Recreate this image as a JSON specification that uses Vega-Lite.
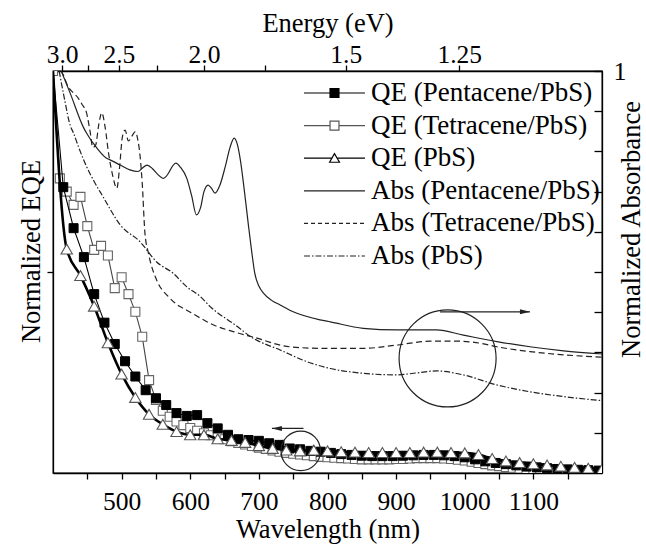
{
  "$schema": "https://vega.github.io/schema/vega-lite/v6.json",
  "width": 549,
  "height": 402,
  "autosize": {"type": "none"},
  "padding": {"left": 53, "top": 71, "right": 44, "bottom": 74},
  "background": "white",
  "config": {
    "font": "Liberation Serif",
    "view": {"stroke": "black", "strokeWidth": 1.3},
    "axis": {"grid": false, "domainColor": "black", "domainWidth": 1.3, "tickColor": "black", "tickWidth": 1.3,
      "labelFont": "Liberation Serif", "labelFontSize": 25.5, "labelColor": "black",
      "titleFont": "Liberation Serif", "titleFontSize": 26.5, "titleFontWeight": "normal", "titleColor": "black",
      "labelFlush": false, "labelOverlap": false}
  },
  "datasets": {
    "qe_pen": [
      {"wl":400,"v":1.0},{"wl":415,"v":0.711},{"wl":430,"v":0.609},{"wl":445,"v":0.537},{"wl":460,"v":0.445},{"wl":475,"v":0.374},{"wl":490,"v":0.321},{"wl":505,"v":0.278},{"wl":520,"v":0.240},{"wl":535,"v":0.206},{"wl":550,"v":0.186},{"wl":565,"v":0.169},{"wl":580,"v":0.149},{"wl":595,"v":0.142},{"wl":610,"v":0.144},{"wl":625,"v":0.124},{"wl":640,"v":0.111},{"wl":655,"v":0.095},{"wl":670,"v":0.084},{"wl":685,"v":0.082},{"wl":700,"v":0.080},{"wl":715,"v":0.074},{"wl":730,"v":0.070},{"wl":745,"v":0.061},{"wl":760,"v":0.059},{"wl":775,"v":0.055},{"wl":790,"v":0.053},{"wl":805,"v":0.050},{"wl":820,"v":0.047},{"wl":835,"v":0.045},{"wl":850,"v":0.043},{"wl":865,"v":0.042},{"wl":880,"v":0.042},{"wl":895,"v":0.042},{"wl":910,"v":0.043},{"wl":925,"v":0.044},{"wl":940,"v":0.045},{"wl":955,"v":0.045},{"wl":970,"v":0.044},{"wl":985,"v":0.042},{"wl":1000,"v":0.039},{"wl":1015,"v":0.034},{"wl":1030,"v":0.029},{"wl":1045,"v":0.025},{"wl":1060,"v":0.022},{"wl":1075,"v":0.019},{"wl":1090,"v":0.016},{"wl":1105,"v":0.014},{"wl":1120,"v":0.012},{"wl":1135,"v":0.010},{"wl":1150,"v":0.009},{"wl":1165,"v":0.008},{"wl":1180,"v":0.007},{"wl":1195,"v":0.006}
    ],
    "qe_tet": [
      {"wl":400,"v":1.0},{"wl":410,"v":0.733},{"wl":420,"v":0.700},{"wl":430,"v":0.667},{"wl":440,"v":0.687},{"wl":450,"v":0.614},{"wl":460,"v":0.555},{"wl":470,"v":0.565},{"wl":480,"v":0.541},{"wl":490,"v":0.460},{"wl":500,"v":0.487},{"wl":510,"v":0.445},{"wl":520,"v":0.401},{"wl":530,"v":0.339},{"wl":540,"v":0.231},{"wl":550,"v":0.182},{"wl":560,"v":0.155},{"wl":570,"v":0.140},{"wl":580,"v":0.128},{"wl":590,"v":0.119},{"wl":600,"v":0.112},{"wl":610,"v":0.105},{"wl":620,"v":0.099},{"wl":630,"v":0.094},{"wl":640,"v":0.089},{"wl":650,"v":0.084},{"wl":660,"v":0.079},{"wl":670,"v":0.075},{"wl":680,"v":0.071},{"wl":690,"v":0.067},{"wl":700,"v":0.063},{"wl":710,"v":0.060},{"wl":720,"v":0.056},{"wl":730,"v":0.053},{"wl":740,"v":0.050},{"wl":750,"v":0.048},{"wl":760,"v":0.046},{"wl":770,"v":0.044},{"wl":780,"v":0.042},{"wl":790,"v":0.040},{"wl":800,"v":0.039},{"wl":810,"v":0.038},{"wl":820,"v":0.037},{"wl":830,"v":0.036},{"wl":840,"v":0.035},{"wl":850,"v":0.034},{"wl":860,"v":0.034},{"wl":870,"v":0.034},{"wl":880,"v":0.034},{"wl":890,"v":0.034},{"wl":900,"v":0.035},{"wl":910,"v":0.035},{"wl":920,"v":0.036},{"wl":930,"v":0.037},{"wl":940,"v":0.037},{"wl":950,"v":0.037},{"wl":960,"v":0.037},{"wl":970,"v":0.036},{"wl":980,"v":0.035},{"wl":990,"v":0.033},{"wl":1000,"v":0.031},{"wl":1010,"v":0.028},{"wl":1020,"v":0.025},{"wl":1030,"v":0.022},{"wl":1040,"v":0.019},{"wl":1050,"v":0.017},{"wl":1060,"v":0.015},{"wl":1070,"v":0.013},{"wl":1080,"v":0.011},{"wl":1090,"v":0.010},{"wl":1100,"v":0.009},{"wl":1110,"v":0.008},{"wl":1120,"v":0.007},{"wl":1130,"v":0.006},{"wl":1140,"v":0.005},{"wl":1150,"v":0.004},{"wl":1160,"v":0.004},{"wl":1170,"v":0.003},{"wl":1180,"v":0.003},{"wl":1190,"v":0.002},{"wl":1200,"v":0.002}
    ],
    "qe_pbs": [
      {"wl":400,"v":1.0},{"wl":420,"v":0.557},{"wl":440,"v":0.491},{"wl":460,"v":0.415},{"wl":480,"v":0.324},{"wl":500,"v":0.246},{"wl":520,"v":0.188},{"wl":540,"v":0.146},{"wl":560,"v":0.121},{"wl":580,"v":0.103},{"wl":600,"v":0.095},{"wl":620,"v":0.095},{"wl":640,"v":0.085},{"wl":660,"v":0.081},{"wl":680,"v":0.076},{"wl":700,"v":0.068},{"wl":720,"v":0.061},{"wl":740,"v":0.057},{"wl":760,"v":0.055},{"wl":780,"v":0.057},{"wl":800,"v":0.055},{"wl":820,"v":0.053},{"wl":840,"v":0.052},{"wl":860,"v":0.051},{"wl":880,"v":0.051},{"wl":900,"v":0.051},{"wl":920,"v":0.051},{"wl":940,"v":0.052},{"wl":960,"v":0.052},{"wl":980,"v":0.051},{"wl":1000,"v":0.050},{"wl":1020,"v":0.046},{"wl":1040,"v":0.036},{"wl":1060,"v":0.030},{"wl":1080,"v":0.026},{"wl":1100,"v":0.023},{"wl":1120,"v":0.020},{"wl":1140,"v":0.017},{"wl":1160,"v":0.014},{"wl":1180,"v":0.012},{"wl":1200,"v":0.009}
    ],
    "abs_pen": [
      {"wl":412,"v":1.0},{"wl":425,"v":0.945},{"wl":444,"v":0.861},{"wl":449,"v":0.845},{"wl":464,"v":0.808},{"wl":478,"v":0.783},{"wl":483,"v":0.779},{"wl":498,"v":0.766},{"wl":512,"v":0.754},{"wl":524,"v":0.750},{"wl":530,"v":0.758},{"wl":537,"v":0.766},{"wl":545,"v":0.757},{"wl":552,"v":0.744},{"wl":561,"v":0.733},{"wl":568,"v":0.745},{"wl":574,"v":0.763},{"wl":579,"v":0.771},{"wl":586,"v":0.760},{"wl":595,"v":0.733},{"wl":602,"v":0.690},{"wl":609,"v":0.642},{"wl":615,"v":0.660},{"wl":620,"v":0.700},{"wl":626,"v":0.716},{"wl":631,"v":0.708},{"wl":636,"v":0.696},{"wl":643,"v":0.715},{"wl":651,"v":0.762},{"wl":658,"v":0.810},{"wl":664,"v":0.833},{"wl":669,"v":0.815},{"wl":673,"v":0.779},{"wl":679,"v":0.700},{"wl":685,"v":0.613},{"wl":690,"v":0.545},{"wl":694,"v":0.497},{"wl":700,"v":0.465},{"wl":707,"v":0.447},{"wl":718,"v":0.430},{"wl":731,"v":0.418},{"wl":750,"v":0.401},{"wl":789,"v":0.381},{"wl":804,"v":0.376},{"wl":852,"v":0.360},{"wl":901,"v":0.356},{"wl":959,"v":0.356},{"wl":998,"v":0.343},{"wl":1047,"v":0.327},{"wl":1095,"v":0.314},{"wl":1144,"v":0.304},{"wl":1200,"v":0.296}
    ],
    "abs_tet": [
      {"wl":412,"v":1.0},{"wl":415,"v":0.99},{"wl":422,"v":0.961},{"wl":430,"v":0.945},{"wl":437,"v":0.932},{"wl":442,"v":0.918},{"wl":449,"v":0.895},{"wl":454,"v":0.850},{"wl":458,"v":0.810},{"wl":462,"v":0.815},{"wl":467,"v":0.870},{"wl":471,"v":0.896},{"wl":476,"v":0.860},{"wl":481,"v":0.795},{"wl":487,"v":0.740},{"wl":493,"v":0.708},{"wl":497,"v":0.760},{"wl":501,"v":0.835},{"wl":505,"v":0.853},{"wl":510,"v":0.826},{"wl":515,"v":0.838},{"wl":520,"v":0.849},{"wl":524,"v":0.825},{"wl":527,"v":0.787},{"wl":530,"v":0.721},{"wl":534,"v":0.596},{"wl":539,"v":0.547},{"wl":551,"v":0.480},{"wl":568,"v":0.439},{"wl":585,"v":0.414},{"wl":595,"v":0.405},{"wl":615,"v":0.385},{"wl":629,"v":0.372},{"wl":664,"v":0.351},{"wl":692,"v":0.338},{"wl":745,"v":0.314},{"wl":794,"v":0.310},{"wl":852,"v":0.310},{"wl":900,"v":0.318},{"wl":950,"v":0.328},{"wl":988,"v":0.328},{"wl":1022,"v":0.323},{"wl":1047,"v":0.314},{"wl":1095,"v":0.302},{"wl":1144,"v":0.294},{"wl":1200,"v":0.288}
    ],
    "abs_pbs": [
      {"wl":409,"v":1.0},{"wl":417,"v":0.928},{"wl":425,"v":0.865},{"wl":430,"v":0.845},{"wl":437,"v":0.812},{"wl":449,"v":0.762},{"wl":460,"v":0.725},{"wl":473,"v":0.687},{"wl":498,"v":0.617},{"wl":527,"v":0.575},{"wl":551,"v":0.525},{"wl":575,"v":0.497},{"wl":595,"v":0.463},{"wl":614,"v":0.440},{"wl":629,"v":0.414},{"wl":664,"v":0.370},{"wl":692,"v":0.335},{"wl":731,"v":0.306},{"wl":770,"v":0.277},{"wl":804,"v":0.260},{"wl":852,"v":0.248},{"wl":901,"v":0.244},{"wl":930,"v":0.249},{"wl":959,"v":0.254},{"wl":998,"v":0.244},{"wl":1047,"v":0.219},{"wl":1095,"v":0.202},{"wl":1144,"v":0.190},{"wl":1200,"v":0.180}
    ],
    "markers": [{"wl": 500}, {"wl": 664}],
    "circles": [{"name": "big", "wl": 975, "v": 0.285}, {"name": "small", "wl": 761, "v": 0.055}],
    "arrows": [{"name": "toRight", "wl": 964, "wl2": 1095, "v": 0.401}, {"name": "toLeft", "wl": 765, "wl2": 719, "v": 0.111}],
    "series": [{"series": "QE (Pentacene/PbS)"}, {"series": "QE (Tetracene/PbS)"}, {"series": "QE (PbS)"}, {"series": "Abs (Pentacene/PbS)"}, {"series": "Abs (Tetracene/PbS)"}, {"series": "Abs (PbS)"}]
  },
  "layer": [
    {
      "encoding": {
        "x": {"field": "wl", "type": "quantitative", "scale": {"domain": [400, 1200], "nice": false, "zero": false},
          "axis": {"orient": "bottom", "title": "Wavelength (nm)", "values": [450,500,550,600,650,700,750,800,850,900,950,1000,1050,1100,1150],
            "labelExpr": "datum.value % 100 == 0 ? format(datum.value, 'd') : ''", "tickSize": 6, "labelPadding": 30, "labelBaseline": "alphabetic",
            "titleY": 64, "titleBaseline": "alphabetic"}},
        "y": {"field": "v", "type": "quantitative", "scale": {"domain": [0, 1], "nice": false, "zero": false},
          "axis": {"orient": "left", "title": "Normalized EQE", "values": [0.5], "labels": false, "tickSize": 6,
            "titleAngle": 270, "titleX": -13.5, "titleY": 180, "titleBaseline": "alphabetic", "titleAlign": "center"}}
      },
      "layer": [
        {"data": {"name": "markers"}, "mark": {"type": "rule", "stroke": "#333", "strokeWidth": 1.3, "strokeDash": [1.5, 2.5]},
          "encoding": {"y": {"datum": 0}, "y2": {"datum": 1}}},
        {"data": {"name": "qe_tet"}, "mark": {"type": "line", "stroke": "#444", "strokeWidth": 1.1, "clip": true}, "encoding": {}},
        {"data": {"name": "qe_tet"}, "mark": {"type": "point", "shape": "square", "size": 81, "filled": true, "fill": "white", "stroke": "#666", "strokeWidth": 1.1, "opacity": 1, "clip": true}, "encoding": {}},
        {"data": {"name": "qe_pen"}, "mark": {"type": "line", "stroke": "black", "strokeWidth": 1.1, "clip": true}, "encoding": {}},
        {"data": {"name": "qe_pen"}, "transform": [{"filter": "datum.wl > 400"}], "mark": {"type": "point", "shape": "square", "size": 81, "filled": true, "fill": "black", "stroke": "black", "strokeWidth": 1, "opacity": 1, "clip": true}, "encoding": {}},
        {"data": {"name": "qe_pbs"}, "mark": {"type": "line", "stroke": "black", "strokeWidth": 2.6, "interpolate": "monotone", "clip": true}, "encoding": {}},
        {"data": {"name": "qe_pbs"}, "transform": [{"filter": "datum.wl > 400"}], "mark": {"type": "point", "shape": "triangle-up", "size": 130, "filled": true, "fill": "white", "stroke": "#555", "strokeWidth": 1.1, "opacity": 1, "clip": true}, "encoding": {}},
        {"data": {"name": "circles"}, "transform": [{"filter": "datum.name == 'big'"}], "mark": {"type": "point", "shape": "circle", "size": 9409, "filled": false, "stroke": "#222", "strokeWidth": 1.2, "opacity": 1}, "encoding": {}},
        {"data": {"name": "circles"}, "transform": [{"filter": "datum.name == 'small'"}], "mark": {"type": "point", "shape": "circle", "size": 1560, "filled": false, "stroke": "#222", "strokeWidth": 1.2, "opacity": 1}, "encoding": {}},
        {"data": {"name": "arrows"}, "mark": {"type": "rule", "stroke": "#222", "strokeWidth": 1.2}, "encoding": {"x2": {"field": "wl2"}}},
        {"data": {"name": "arrows"}, "transform": [{"filter": "datum.name == 'toRight'"}], "mark": {"type": "point", "shape": "M1,0L-1,-0.5L-1,0.5Z", "size": 100, "filled": true, "fill": "#222", "strokeWidth": 0, "opacity": 1, "xOffset": -5}, "encoding": {"x": {"field": "wl2", "type": "quantitative"}}},
        {"data": {"name": "arrows"}, "transform": [{"filter": "datum.name == 'toLeft'"}], "mark": {"type": "point", "shape": "M-1,0L1,-0.5L1,0.5Z", "size": 100, "filled": true, "fill": "#222", "strokeWidth": 0, "opacity": 1, "xOffset": 5}, "encoding": {"x": {"field": "wl2", "type": "quantitative"}}},
        {"data": {"name": "series"}, "mark": {"type": "point", "opacity": 1, "filled": true},
          "encoding": {
            "shape": {"field": "series", "type": "nominal",
              "scale": {"domain": ["QE (Pentacene/PbS)", "QE (Tetracene/PbS)", "QE (PbS)", "Abs (Pentacene/PbS)", "Abs (Tetracene/PbS)", "Abs (PbS)"],
                "range": ["M-3,0H-0.44M0.44,0H3M-0.44,-0.44H0.44V0.44H-0.44Z", "M-3,0H-0.44M0.44,0H3M-0.44,-0.44H0.44V0.44H-0.44Z", "M-3,0H-0.26M0.26,0H3M0,-0.45L0.49,0.4H-0.49Z", "M-3,0H3", "M-3,0H3", "M-3,0H3"]},
              "legend": {"orient": "none", "legendX": 268, "legendY": 8.5, "title": null, "symbolSize": 413, "labelFontSize": 27, "labelFont": "Liberation Serif", "labelColor": "black", "labelOffset": 23, "rowPadding": 4.6, "padding": 0, "symbolStrokeWidth": 1.2, "labelLimit": 400}},
            "fill": {"field": "series", "type": "nominal",
              "scale": {"domain": ["QE (Pentacene/PbS)", "QE (Tetracene/PbS)", "QE (PbS)", "Abs (Pentacene/PbS)", "Abs (Tetracene/PbS)", "Abs (PbS)"],
                "range": ["black", "white", "white", "white", "white", "white"]}},
            "stroke": {"field": "series", "type": "nominal",
              "scale": {"domain": ["QE (Pentacene/PbS)", "QE (Tetracene/PbS)", "QE (PbS)", "Abs (Pentacene/PbS)", "Abs (Tetracene/PbS)", "Abs (PbS)"],
                "range": ["black", "#555", "black", "#222", "#222", "#222"]}},
            "strokeDash": {"field": "series", "type": "nominal",
              "scale": {"domain": ["QE (Pentacene/PbS)", "QE (Tetracene/PbS)", "QE (PbS)", "Abs (Pentacene/PbS)", "Abs (Tetracene/PbS)", "Abs (PbS)"],
                "range": [[1, 0], [1, 0], [1, 0], [1, 0], [4, 3], [6, 2, 1.5, 2]]}}
          }}
      ]
    },
    {
      "encoding": {
        "x": {"field": "wl", "type": "quantitative", "scale": {"domain": [400, 1200], "nice": false, "zero": false},
          "axis": {"orient": "top", "title": "Energy (eV)", "values": [413.333, 450.909, 496, 551.111, 620, 708.571, 826.667, 992],
            "labelExpr": "datum.value < 420 ? '3.0' : (datum.value > 490 && datum.value < 500) ? '2.5' : (datum.value > 615 && datum.value < 625) ? '2.0' : (datum.value > 820 && datum.value < 830) ? '1.5' : (datum.value > 985 && datum.value < 1000) ? '1.25' : ''",
            "tickSize": 6, "labelPadding": 3, "labelBaseline": "alphabetic", "titleY": -40, "titleBaseline": "alphabetic"}},
        "y": {"field": "v", "type": "quantitative", "scale": {"domain": [0, 1], "nice": false, "zero": false},
          "axis": {"orient": "right", "title": "Normalized Absorbance", "values": [0.1,0.2,0.3,0.4,0.5,0.6,0.7,0.8,0.9,1],
            "labelExpr": "datum.value == 1 ? '1' : ''", "tickSize": -8, "labelPadding": 19, "labelFontSize": 26, "labelBaseline": "middle",
            "titleAngle": 270, "titleX": 37, "titleY": 158, "titleBaseline": "alphabetic", "titleAlign": "center"}}
      },
      "layer": [
        {"data": {"name": "abs_pen"}, "mark": {"type": "line", "stroke": "#222", "strokeWidth": 1.2, "interpolate": "monotone", "clip": true}, "encoding": {}},
        {"data": {"name": "abs_tet"}, "mark": {"type": "line", "stroke": "#222", "strokeWidth": 1.2, "strokeDash": [6, 3.5], "interpolate": "monotone", "clip": true}, "encoding": {}},
        {"data": {"name": "abs_pbs"}, "mark": {"type": "line", "stroke": "#222", "strokeWidth": 1.2, "strokeDash": [6, 2, 1.5, 2], "interpolate": "monotone", "clip": true}, "encoding": {}}
      ]
    }
  ],
  "resolve": {"scale": {"x": "independent", "y": "independent"}}
}
